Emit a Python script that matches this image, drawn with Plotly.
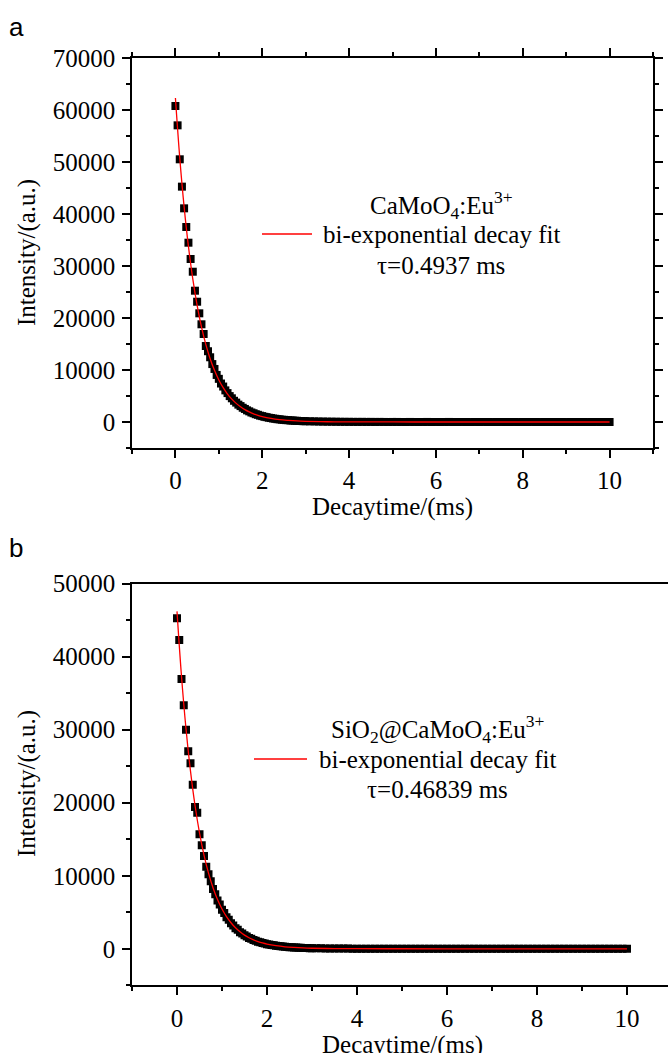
import plotly.graph_objects as go

# ---------------- data ----------------
time_ms = [0.0, 0.05, 0.1, 0.15, 0.2, 0.25, 0.3, 0.35, 0.4, 0.45,
           0.5, 0.55, 0.6, 0.65, 0.7, 0.75, 0.8, 0.85, 0.9, 0.95,
           1.0, 1.05, 1.1, 1.15, 1.2, 1.25, 1.3, 1.35, 1.4, 1.45,
           1.5, 1.55, 1.6, 1.65, 1.7, 1.75, 1.8, 1.85, 1.9, 1.95,
           2.0, 2.05, 2.1, 2.15, 2.2, 2.25, 2.3, 2.35, 2.4, 2.45,
           2.5, 2.55, 2.6, 2.65, 2.7, 2.75, 2.8, 2.85, 2.9, 2.95, 3.0,
           3.1, 3.2, 3.3, 3.4, 3.5, 3.6, 3.7, 3.8, 3.9, 4.0,
           4.1, 4.2, 4.3, 4.4, 4.5, 4.6, 4.7, 4.8, 4.9, 5.0,
           5.1, 5.2, 5.3, 5.4, 5.5, 5.6, 5.7, 5.8, 5.9, 6.0,
           6.1, 6.2, 6.3, 6.4, 6.5, 6.6, 6.7, 6.8, 6.9, 7.0,
           7.1, 7.2, 7.3, 7.4, 7.5, 7.6, 7.7, 7.8, 7.9, 8.0,
           8.1, 8.2, 8.3, 8.4, 8.5, 8.6, 8.7, 8.8, 8.9, 9.0,
           9.1, 9.2, 9.3, 9.4, 9.5, 9.6, 9.7, 9.8, 9.9, 10.0]

intensity_a = [60770, 57050, 50520, 45260, 41090, 37500, 34480, 31350, 28900, 25250,
               23130, 20900, 18790, 16920, 14620, 13610, 12450, 11140, 10200, 9050,
               8300, 7400, 6820, 6080, 5560, 4980, 4560, 4080, 3730, 3340,
               3060, 2740, 2510, 2240, 2050, 1830, 1680, 1500, 1380, 1220,
               1130, 1000, 930, 820, 760, 670, 620, 540, 510, 440,
               420, 360, 350, 290, 285, 240, 235, 195, 185, 160, 150,
               130, 115, 95, 80, 70, 60, 50, 40, 35, 30,
               25, 20, 25, 15, 20, 10, 15, 10, 5, 10,
               10, 5, 0, 10, 5, 0, 5, 10, 0, 5,
               0, 5, 10, 0, 0, 5, 0, -5, 5, 0,
               5, 0, -5, 0, 5, 0, 0, 5, -5, 0,
               0, 5, 0, -5, 0, 0, 5, 0, 0, -5,
               0, 5, 0, 0, -5, 0, 5, 0, 0, 0]

intensity_b = [45260, 42290, 36950, 33340, 30000, 27040, 25400, 22470, 19410, 18630,
               15670, 14160, 12700, 11230, 10220, 9250, 8200, 7480, 6620, 6050,
               5350, 4890, 4320, 3960, 3490, 3200, 2820, 2590, 2280, 2090,
               1840, 1690, 1480, 1370, 1200, 1100, 970, 890, 785, 725,
               630, 590, 515, 475, 415, 385, 335, 310, 270, 250,
               215, 205, 175, 165, 140, 135, 110, 108, 90, 88, 75,
               65, 58, 50, 44, 38, 32, 28, 24, 20, 18,
               15, 12, 14, 10, 8, 10, 6, 8, 5, 6,
               5, 0, 5, 10, 0, 5, 0, 5, 0, 5,
               0, 5, 0, -5, 5, 0, 0, 5, 0, 0,
               5, 0, -5, 0, 0, 5, 0, 0, -5, 0,
               0, 5, 0, 0, -5, 0, 5, 0, 0, 5,
               0, 0, 5, 0, -5, 0, 0, 5, 0, 0]

fit_time = [0.0, 0.1, 0.2, 0.3, 0.4, 0.5, 0.6, 0.7, 0.8, 0.9, 1.0,
            1.1, 1.2, 1.3, 1.4, 1.5, 1.6, 1.7, 1.8, 1.9, 2.0,
            2.2, 2.4, 2.6, 2.8, 3.0, 3.5, 4.0, 5.0, 6.0, 7.0, 8.0, 9.0, 10.0]
fit_a = [62300, 50800, 41420, 33770, 27540, 22450, 18310, 14930, 12170, 9930, 8090,
         6600, 5380, 4390, 3580, 2920, 2380, 1940, 1580, 1290, 1050,
         700, 460, 310, 200, 135, 50, 20, 5, 2, 1, 0, 0, 0]
fit_b = [46200, 37310, 30130, 24330, 19650, 15870, 12820, 10350, 8360, 6750, 5450,
         4400, 3560, 2870, 2320, 1870, 1510, 1220, 985, 795, 640,
         420, 270, 180, 115, 75, 26, 9, 2, 0, 0, 0, 0, 0]

x_ticks = [0, 2, 4, 6, 8, 10]
sample_a = "CaMoO<sub>4</sub>:Eu<sup>3+</sup>"
sample_b = "SiO<sub>2</sub>@CaMoO<sub>4</sub>:Eu<sup>3+</sup>"
fit_label = "bi-exponential decay fit"
tau_a = "τ=0.4937 ms"
tau_b = "τ=0.46839 ms"
x_title = "Decaytime/(ms)"
y_title = "Intensity/(a.u.)"

# ---------------- layout helpers ----------------
W, H = 668, 1053
L = 132
SERIF = "Liberation Serif, Times New Roman, serif"


def px_x(p):
    return (p - L) / (W - L)


def px_y(p):
    return 1 - p / H


fig = go.Figure()

for xa, ya, t, iv, ft, fv in [("x", "y", time_ms, intensity_a, fit_time, fit_a),
                              ("x2", "y2", time_ms, intensity_b, fit_time, fit_b)]:
    fig.add_trace(go.Scatter(x=t, y=iv, mode="markers", xaxis=xa, yaxis=ya,
                             marker=dict(symbol="square", size=8, color="black",
                                         line=dict(width=0)),
                             showlegend=False, hoverinfo="skip"))
    fig.add_trace(go.Scatter(x=ft, y=fv, mode="lines", xaxis=xa, yaxis=ya,
                             line=dict(color="#ff0000", width=1.3, shape="spline"),
                             showlegend=False, hoverinfo="skip"))

axis_common = dict(showline=True, linecolor="black", linewidth=1.5,
                   ticks="outside", ticklen=8, tickwidth=1.5, tickcolor="black",
                   showgrid=False, zeroline=False,
                   tickfont=dict(family=SERIF, size=25, color="black"),
                   automargin=False)

minor_common = dict(ticklen=4, tickwidth=1.5, ticks="outside", tickcolor="black")

fig.update_layout(
    width=W, height=H,
    margin=dict(l=L, r=0, t=0, b=0),
    plot_bgcolor="white", paper_bgcolor="white",
    xaxis=dict(domain=[0, px_x(653)], range=[-1, 11], tickvals=x_ticks,
               mirror="ticks", anchor="y",
               minor=dict(dtick=1, tick0=0, **minor_common),
               ticklabelstandoff=1, **axis_common),
    yaxis=dict(domain=[px_y(448), px_y(58)], range=[-5000, 70000], dtick=10000, tick0=0,
               tickformat="d", mirror="ticks", anchor="x",
               minor=dict(dtick=5000, tick0=0, **minor_common),
               ticklabelstandoff=2, **axis_common),
    xaxis2=dict(domain=[0, 1], range=[-1, -1 + (W - L) / 45.0], tickvals=x_ticks,
                mirror=True, anchor="y2",
                minor=dict(dtick=1, tick0=0, **minor_common),
                ticklabelstandoff=2, **axis_common),
    yaxis2=dict(domain=[px_y(985.3), px_y(583.6)], range=[-5000, 50000], dtick=10000,
                tick0=0, tickformat="d", mirror=False, anchor="x2",
                minor=dict(dtick=5000, tick0=0, **minor_common),
                ticklabelstandoff=2, **axis_common),
)

ann = []


def text(x, y, s, size=25, family=SERIF, angle=0):
    ann.append(dict(x=px_x(x), y=px_y(y), xref="paper", yref="paper", text=s,
                    showarrow=False, xanchor="center", yanchor="middle", textangle=angle,
                    font=dict(family=family, size=size, color="black")))


text(16, 27, "a", size=26, family="Liberation Sans, Arial, sans-serif")
text(16, 548, "b", size=26, family="Liberation Sans, Arial, sans-serif")
text(392, 507, x_title)
text(402, 1045, x_title)
text(27, 253, y_title, angle=-90)
text(27, 784, y_title, angle=-90)

text(441, 205, sample_a)
text(441, 234, fit_label)
text(441, 265, tau_a)
text(437, 729, sample_b)
text(437, 759, fit_label)
text(437, 789, tau_b)

fig.update_layout(annotations=ann)

fig.add_shape(type="line", xref="paper", yref="paper",
              x0=px_x(262), x1=px_x(312), y0=px_y(234), y1=px_y(234),
              line=dict(color="#ff0000", width=1.3))
fig.add_shape(type="line", xref="paper", yref="paper",
              x0=px_x(254), x1=px_x(307), y0=px_y(759), y1=px_y(759),
              line=dict(color="#ff0000", width=1.3))

fig.write_html("out.html", config={"displayModeBar": False},
               post_script="document.body.style.margin='0';document.body.style.overflow='hidden';")
